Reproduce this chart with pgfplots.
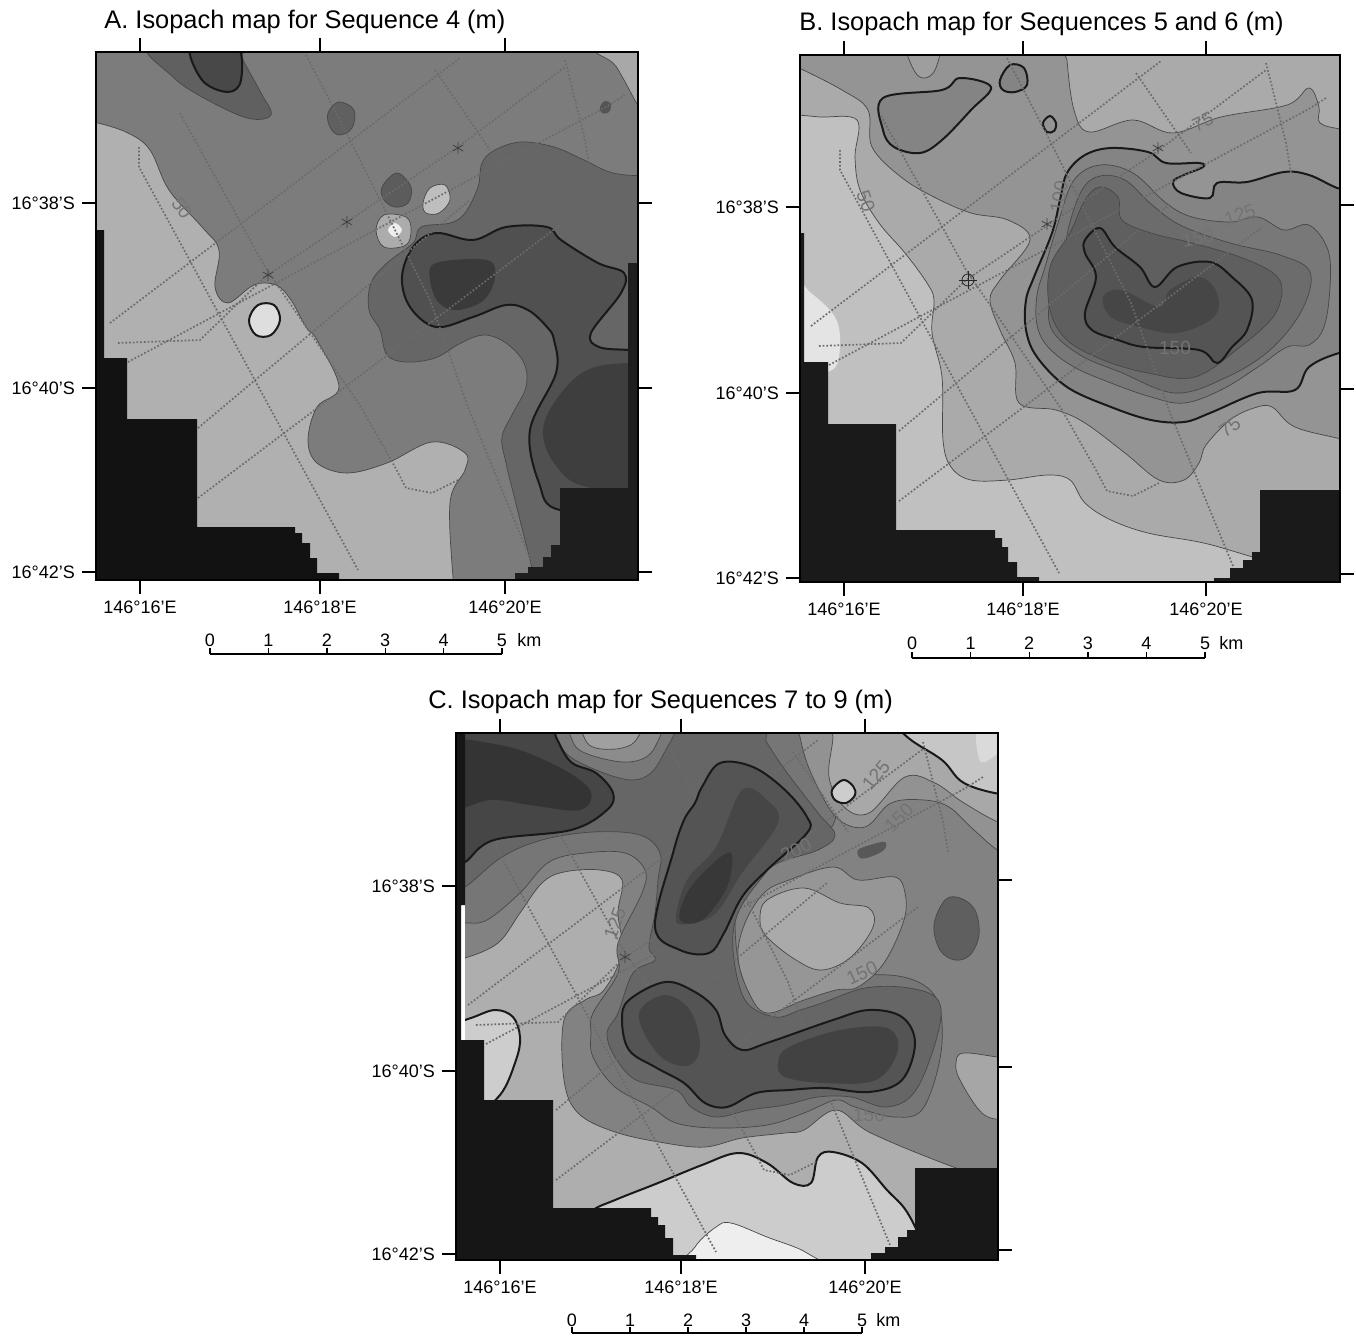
\documentclass[border=0pt]{standalone}
\usepackage{fontspec}
\setmainfont{Liberation Sans}
\usepackage{pgfplots}
\pgfplotsset{compat=1.18}
% R = filled isopach zone (grey level, points) ; T = same with heavy contour
\newcommand\R[2]{\addplot[smooth cycle,tension=.6,fill={rgb,255:red,#1;green,#1;blue,#1},draw=black!72,line width=.35pt] coordinates {#2};}
\newcommand\F[2]{\addplot[smooth cycle,tension=.6,fill={rgb,255:red,#1;green,#1;blue,#1},draw=none] coordinates {#2};}
\newcommand\T[2]{\addplot[smooth cycle,tension=.6,fill={rgb,255:red,#1;green,#1;blue,#1},draw=black!90,line width=1pt] coordinates {#2};}
\newcommand\Bk[2]{\addplot[fill={rgb,255:red,#1;green,#1;blue,#1},draw=none] coordinates {#2} --cycle;}
\newcommand\Lb[4]{\node[text=black!55,font=\fontsize{9.5}{9.5}\selectfont,rotate=#4,inner sep=0pt] at (#1,#2) {#3};}
\newcommand\tracks[2]{%
 \pgfplotsset{track/.style={draw=black!58,densely dotted,line width=.85pt,forget plot,
   x filter/.expression={x+#1},y filter/.expression={y+#2}}}%
 \addplot[track] coordinates {(110,323)(460,58)};
 \addplot[track] coordinates {(118,343)(200,340)(265,277)(347,222)(458,147)(565,67)};
 \addplot[track] coordinates {(128,362)(606,107)(625,95)};
 \addplot[track] coordinates {(198,428)(470,200)};
 \addplot[track] coordinates {(198,498)(560,225)};
 \addplot[track] coordinates {(139,147)(139,167)(358,570)};
 \addplot[track] coordinates {(180,113)(265,267)(361,407)(395,467)(406,488)(432,493)(458,480)};
 \addplot[track] coordinates {(306,55)(345,130)(430,300)(469,410)(532,563)};
 \addplot[track] coordinates {(435,70)(490,150)};
 \addplot[track] coordinates {(565,60)(585,140)(590,170)};
}
\pgfplotsset{map/.style={scale only axis,y dir=reverse,
  axis line style={line width=1pt},tick style={black,line width=.9pt},
  tick align=outside,major tick length=7pt,
  xtick pos=both,ytick pos=left,xticklabel pos=bottom,yticklabel pos=left,
  anchor=north west,clip=true,axis on top,
  xticklabels={146°16'E,146°18'E,146°20'E},yticklabels={16°38'S,16°40'S,16°42'S},
  tick label style={font=\fontsize{9}{9}\selectfont},
  every x tick label/.append style={yshift=0pt},
  every y tick label/.append style={xshift=0pt}}}
\newcommand\scalebar[5]{% x0 x1 y ylabel kmx
 \draw[line width=.9pt] (#1,#3) -- (#2,#3);
 \foreach \i in {0,...,5}{
  \pgfmathsetmacro\xx{#1+\i*(#2-#1)/5}
  \draw[line width=.7pt] (\xx,#3) -- ++(0,-6);
  \node[font=\fontsize{9}{9}\selectfont,inner sep=0pt] at (\xx,#4) {\i};}
 \node[font=\fontsize{9}{9}\selectfont,inner sep=0pt,anchor=west] at (#5,#4) {km};
}
\begin{document}
\begin{tikzpicture}
\useasboundingbox (0,0) rectangle (678pt,-668pt);
%% ---------- PANEL A
\begin{axis}[map,at={(48pt,-26pt)},width=271pt,height=264pt,
  xmin=96,xmax=638,ymin=52,ymax=580,xtick={140,320,505},ytick={203,388,572},
  axis background/.style={fill={rgb,255:red,176;green,176;blue,176}}]
\R{124}{(60,122)(85,122)(98,123)(128,133)(150,150)(169,190)(202,227)(219,250)(215,287)(228,303)(254,285)(276,285)(291,300)(306,327)(317,340)(339,387)(317,407)(308,440)(317,463)(347,473)(387,463)(432,442)(465,453)(465,470)(450,503)(454,590)(460,640)(700,640)(700,20)(60,20)}
\R{168}{(585,40)(595,52)(613,63)(624,80)(639,107)(660,135)(700,135)(700,40)}
\R{102}{(700,176)(650,176)(613,173)(584,160)(554,147)(521,142)(495,150)(482,163)(478,187)(465,213)(450,223)(421,227)(413,243)(387,263)(371,283)(369,310)(380,330)(387,355)(406,362)(435,358)(461,343)(484,335)(506,343)(524,363)(526,387)(513,413)(502,437)(506,463)(515,500)(530,560)(540,600)(560,660)(700,660)}
\T{80}{(561,240)(547,227)(506,227)(473,240)(436,233)(413,247)(402,277)(410,307)(436,327)(473,317)(506,305)(528,310)(547,327)(554,340)(556,373)(530,430)(539,483)(560,510)(650,510)(680,510)(680,352)(650,352)(628,350)(599,347)(591,333)(621,293)(624,273)(598,263)}
\F{58}{(436,263)(487,260)(495,277)(484,300)(458,310)(439,303)(430,280)}
\F{62}{(680,363)(628,363)(587,370)(558,397)(543,430)(554,463)(587,487)(680,492)}
\R{96}{(148,45)(173,77)(202,97)(247,118)(271,115)(261,93)(243,60)(237,45)}
\T{72}{(191,45)(202,80)(228,92)(241,80)(236,45)}
\R{96}{(328,113)(339,102)(354,110)(352,128)(339,135)(330,127)}
\R{92}{(382,187)(397,173)(411,187)(408,203)(395,207)(384,200)}
\R{190}{(423,203)(430,188)(445,185)(450,200)(439,213)(426,213)}
\R{172}{(376,230)(384,215)(406,217)(411,230)(406,245)(384,247)}
\F{238}{(388,230)(395,223)(402,230)(395,237)}
\T{222}{(249,320)(258,305)(274,305)(280,320)(271,335)(256,335)}
\F{84}{(600,107)(605,101)(611,104)(609,112)(602,113)}
\tracks{0}{0}
\addplot[only marks,mark=asterisk,mark size=3pt,black!75,forget plot] coordinates {(268,275)(347,222)(458,148)};
\Bk{18}{(90,230)(104,230)(104,358)(127,358)(127,419)(197,419)(197,527)(295,527)(295,533)(302,533)(302,543)(310,543)(310,558)(317,558)(317,573)(339,573)(339,590)(90,590)}
\Bk{30}{(515,590)(515,573)(528,573)(528,567)(543,567)(543,557)(551,557)(551,545)(560,545)(560,488)(628,488)(628,263)(645,263)(645,590)}
\Lb{182}{208}{50}{-55}
\end{axis}
%% ---------- PANEL B
\begin{axis}[map,at={(400pt,-27.5pt)},width=270pt,height=263.5pt,
  xmin=800,xmax=1340,ymin=55,ymax=582,xtick={844,1023,1206},ytick={207,393,578},
  axis background/.style={fill={rgb,255:red,192;green,192;blue,192}}]
\R{170}{(760,115)(795,115)(820,117)(857,120)(855,157)(860,190)(879,223)(905,253)(927,283)(934,300)(932,333)(942,377)(943,440)(951,467)(971,480)(1008,480)(1048,475)(1070,480)(1085,503)(1111,520)(1148,533)(1199,542)(1236,552)(1345,585)(1400,600)(1400,20)(760,20)}
\F{228}{(795,285)(811,293)(835,317)(840,345)(832,370)(795,370)}
\R{148}{(760,50)(795,66)(842,90)(868,110)(872,147)(901,177)(934,197)(971,213)(1008,220)(1030,240)(1000,280)(990,300)(1000,330)(1015,363)(1019,403)(1056,410)(1085,423)(1125,453)(1159,480)(1184,480)(1199,463)(1206,445)(1230,420)(1254,408)(1272,407)(1295,427)(1345,440)(1400,455)(1400,20)(760,20)}
\R{170}{(1067,30)(1067,60)(1074,110)(1089,132)(1133,120)(1173,133)(1221,117)(1287,105)(1309,88)(1319,107)(1320,123)(1345,130)(1400,140)(1400,30)}
\R{158}{(908,48)(915,72)(925,78)(935,70)(938,48)}
\T{132}{(1067,173)(1085,155)(1111,148)(1148,152)(1166,163)(1199,163)(1203,167)(1184,175)(1173,182)(1181,193)(1210,198)(1217,183)(1247,182)(1284,172)(1309,175)(1337,188)(1380,205)(1380,345)(1339,353)(1309,367)(1295,390)(1258,393)(1210,413)(1184,422)(1151,420)(1111,407)(1067,387)(1037,357)(1026,330)(1026,300)(1034,277)(1052,233)(1060,200)}
\R{120}{(1045,267)(1059,220)(1074,180)(1100,165)(1133,173)(1166,203)(1192,217)(1230,222)(1258,217)(1284,230)(1309,225)(1328,250)(1330,287)(1324,327)(1309,345)(1287,347)(1258,367)(1221,390)(1184,403)(1151,397)(1111,383)(1074,367)(1048,347)(1037,325)(1037,295)}
\R{108}{(1063,270)(1068,230)(1082,190)(1100,176)(1125,180)(1150,203)(1180,225)(1230,243)(1280,255)(1310,272)(1302,310)(1270,350)(1225,378)(1175,393)(1120,372)(1080,355)(1052,330)(1050,300)}
\R{95}{(1050,267)(1070,233)(1085,200)(1100,187)(1118,197)(1122,220)(1151,233)(1192,243)(1240,257)(1273,273)(1282,290)(1273,317)(1240,347)(1195,377)(1148,373)(1103,360)(1067,340)(1050,310)}
\T{84}{(1085,240)(1100,228)(1115,247)(1140,267)(1155,287)(1177,267)(1210,262)(1232,277)(1252,300)(1247,330)(1232,347)(1217,363)(1199,350)(1144,347)(1118,340)(1092,330)(1085,313)(1096,277)(1085,253)}
\F{70}{(1103,297)(1122,290)(1159,307)(1170,290)(1199,277)(1217,293)(1214,317)(1177,333)(1140,327)(1111,317)}
\T{132}{(883,98)(942,90)(960,78)(991,87)(971,110)(942,140)(920,153)(894,147)(883,130)}
\T{132}{(1000,80)(1010,65)(1024,68)(1027,85)(1015,92)(1003,90)}
\T{148}{(1043,123)(1050,116)(1056,123)(1054,131)(1047,132)}
\tracks{701}{3}
\addplot[only marks,mark=asterisk,mark size=3pt,black!75,forget plot] coordinates {(1158,148)(1047,224)};
\addplot[only marks,mark=o,mark size=3pt,black!85,forget plot] coordinates {(968,280)};
\addplot[only marks,mark=+,mark size=4.5pt,black!85,forget plot] coordinates {(968,280)};
\Bk{26}{(795,233)(804,233)(804,362)(828,362)(828,424)(896,424)(896,530)(995,530)(995,538)(1002,538)(1002,547)(1008,547)(1008,562)(1017,562)(1017,577)(1039,577)(1039,590)(795,590)}
\Bk{26}{(1214,590)(1214,578)(1230,578)(1230,568)(1243,568)(1243,560)(1252,560)(1252,552)(1260,552)(1260,490)(1345,490)(1345,590)}
\Lb{866}{201}{50}{-70}
\Lb{1203}{122}{75}{25}
\Lb{1059}{197}{100}{80}
\Lb{1240}{215}{125}{20}
\Lb{1198}{238}{150}{10}
\Lb{1175}{348}{150}{0}
\Lb{1230}{427}{75}{35}
\end{axis}
%% ---------- PANEL C
\begin{axis}[map,at={(228pt,-366.5pt)},width=271pt,height=263.5pt,
  xmin=456,xmax=998,ymin=733,ymax=1260,xtick={500,681,865},ytick={886,1071,1254},
  axis background/.style={fill={rgb,255:red,174;green,174;blue,174}}]
\R{130}{(420,958)(450,958)(465,958)(498,943)(520,913)(542,883)(564,872)(600,870)(622,880)(618,913)(622,953)(604,990)(585,1000)(564,1020)(564,1080)(578,1113)(615,1132)(665,1143)(705,1147)(742,1138)(785,1133)(804,1130)(836,1110)(869,1132)(935,1160)(1005,1185)(1060,1200)(1060,700)(420,700)}
\R{118}{(420,923)(450,923)(465,923)(487,920)(520,893)(549,862)(585,853)(625,853)(645,870)(642,893)(618,943)(618,973)(593,1013)(591,1033)(593,1057)(615,1087)(651,1107)(676,1123)(716,1128)(767,1125)(804,1113)(836,1100)(855,1107)(895,1117)(924,1107)(942,1043)(930,990)(870,975)(760,1000)(735,920)(760,860)(835,820)(800,700)(420,700)}
\R{102}{(420,887)(450,887)(465,887)(502,857)(542,840)(593,832)(640,835)(660,853)(658,880)(655,913)(649,947)(655,960)(633,973)(618,1013)(607,1033)(615,1057)(636,1080)(676,1090)(691,1107)(716,1117)(749,1110)(785,1105)(818,1097)(851,1097)(887,1107)(916,1090)(938,1033)(938,1000)(909,988)(865,988)(822,1003)(800,1010)(775,1017)(745,1000)(733,950)(738,913)(760,880)(778,863)(818,850)(835,835)(818,813)(785,770)(767,743)(738,700)(420,700)}
% upper right lighter ground
\R{146}{(795,700)(800,737)(811,773)(836,817)(865,827)(891,803)(924,800)(949,807)(974,830)(1005,855)(1060,880)(1060,700)}
\R{168}{(833,700)(833,737)(829,777)(844,807)(869,813)(905,777)(935,783)(964,803)(1005,825)(1060,840)(1060,700)}
\T{198}{(880,700)(905,735)(942,760)(964,783)(1005,795)(1060,800)(1060,700)}
\F{218}{(978,725)(978,755)(985,762)(1005,745)(1005,725)}
\T{205}{(843,780)(853,786)(855,795)(846,803)(835,800)(832,790)}
\F{88}{(858,850)(870,845)(885,842)(884,850)(870,857)(860,858)}
\R{95}{(934,925)(945,900)(960,898)(975,910)(979,935)(970,955)(955,960)(940,950)}
% central-east basin
\R{150}{(833,867)(858,880)(895,877)(905,893)(904,920)(884,963)(858,987)(836,990)(804,1000)(767,1013)(749,993)(738,957)(745,923)(764,893)(789,880)}
\R{170}{(760,920)(767,900)(804,888)(840,903)(869,908)(873,927)(851,957)(822,970)(796,960)(767,937)}
% south and east lights
\R{166}{(956,1063)(964,1053)(1005,1058)(1040,1060)(1040,1120)(1005,1120)(982,1113)(960,1080)}
\T{204}{(560,1240)(590,1212)(615,1200)(658,1183)(702,1165)(738,1153)(767,1163)(793,1183)(811,1183)(818,1157)(833,1152)(862,1163)(887,1190)(907,1212)(925,1250)(940,1300)(600,1300)}
\R{238}{(695,1247)(716,1227)(731,1223)(767,1237)(807,1253)(825,1275)(685,1275)}
\T{205}{(420,1030)(440,1028)(471,1018)(495,1010)(513,1017)(520,1037)(516,1060)(500,1095)(470,1115)(420,1115)}
\tracks{358}{682}
\addplot[only marks,mark=asterisk,mark size=3pt,black!75,forget plot] coordinates {(625,957)};
% central thick
\T{84}{(702,787)(720,763)(753,767)(785,790)(807,817)(807,833)(767,870)(742,897)(724,933)(709,953)(680,950)(655,927)(673,853)(684,820)(695,803)}
\F{70}{(676,920)(687,880)(716,847)(742,790)(767,800)(778,823)(742,873)(716,913)(691,923)}
\F{56}{(680,920)(687,893)(709,867)(731,853)(727,887)(702,920)}
% south lobes
\T{84}{(622,1020)(629,1000)(665,982)(695,992)(716,1010)(725,1035)(742,1050)(767,1043)(833,1020)(869,1010)(902,1017)(915,1043)(902,1080)(869,1092)(825,1088)(789,1090)(756,1093)(727,1107)(705,1103)(684,1083)(655,1067)(629,1050)}
\F{68}{(640,1010)(665,995)(690,1010)(700,1045)(690,1065)(665,1060)(645,1035)}
\F{66}{(778,1063)(789,1047)(840,1030)(887,1028)(898,1050)(876,1080)(825,1083)(785,1077)}
% NW dark
\R{120}{(535,700)(556,737)(575,760)(633,780)(662,757)(672,700)}
\R{140}{(565,700)(571,737)(585,753)(629,762)(655,747)(660,700)}
\R{160}{(575,700)(584,737)(596,748)(622,748)(638,737)(648,700)}
\T{70}{(420,862)(450,862)(465,862)(494,840)(571,830)(607,810)(613,793)(596,773)(571,762)(556,737)(540,700)(420,700)}
\F{52}{(440,745)(500,745)(555,765)(590,790)(580,810)(530,805)(490,800)(440,810)}
\Bk{255}{(456,905)(465,905)(465,1040)(456,1040)}
\Bk{22}{(450,725)(465,725)(465,905)(461,905)(461,1040)(484,1040)(484,1100)(553,1100)(553,1208)(651,1208)(651,1217)(658,1217)(658,1225)(665,1225)(665,1238)(673,1238)(673,1255)(696,1255)(696,1270)(450,1270)}
\Bk{24}{(871,1270)(871,1253)(885,1253)(885,1247)(898,1247)(898,1237)(907,1237)(907,1230)(915,1230)(915,1168)(1005,1168)(1005,1270)}
\Lb{876}{775}{125}{50}
\Lb{899}{818}{150}{45}
\Lb{796}{850}{200}{25}
\Lb{615}{923}{125}{70}
\Lb{862}{973}{150}{25}
\Lb{869}{1115}{150}{0}
\end{axis}
%% ---------- titles, right-hand ticks and scale bars
\begin{scope}[x=.5pt,y=-.5pt]
\node[anchor=west,inner sep=0pt,font=\fontsize{12.7}{12.7}\selectfont] at (104,22) {A. Isopach map for Sequence 4 (m)};
\node[anchor=west,inner sep=0pt,font=\fontsize{12.7}{12.7}\selectfont] at (799,24) {B. Isopach map for Sequences 5 and 6 (m)};
\node[anchor=west,inner sep=0pt,font=\fontsize{12.7}{12.7}\selectfont] at (428,702) {C. Isopach map for Sequences 7 to 9 (m)};
\foreach \y in {203,388,572} \draw[line width=.9pt] (638,\y) -- ++(14,0);
\foreach \y in {205,389,574} \draw[line width=.9pt] (1340,\y) -- ++(14,0);
\foreach \y in {880,1067,1250} \draw[line width=.9pt] (998,\y) -- ++(14,0);
\scalebar{210}{502}{654}{640}{517}
\scalebar{912}{1205}{658}{643}{1219}
\scalebar{572}{862}{1333}{1320}{876}
\end{scope}
\end{tikzpicture}
\end{document}
